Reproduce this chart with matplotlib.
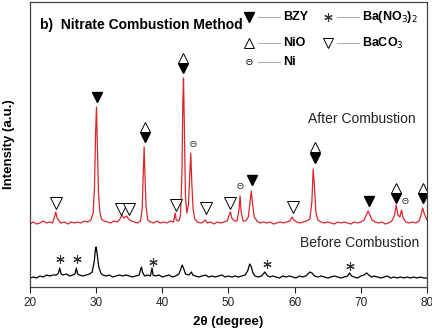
import matplotlib
matplotlib.use('Agg')
import matplotlib.pyplot as plt

plt.rcParams['font.family'] = ['Liberation Sans', 'DejaVu Sans']

# after combustion trace (2theta, intensity a.u.)
red_x = [20.0, 20.5, 21.0, 21.5, 22.0, 22.5, 23.0, 23.4, 23.7, 23.9, 24.1, 24.3, 24.7, 25.2, 25.7,
         26.2, 26.7, 27.2, 27.7, 28.2, 28.7, 29.2, 29.55, 29.75, 29.92, 30.05, 30.18, 30.35, 30.55, 30.8,
         31.2, 31.7, 32.2, 32.7, 33.2, 33.6, 33.9, 34.2, 34.6, 34.9, 35.3, 35.8, 36.3, 36.7, 36.95,
         37.12, 37.25, 37.38, 37.55, 37.8, 38.2, 38.7, 39.2, 39.7, 40.2, 40.7, 41.2, 41.7, 41.95, 42.1,
         42.5, 42.75, 42.97, 43.1, 43.2, 43.32, 43.5, 43.7, 43.95, 44.15, 44.3, 44.45, 44.65, 44.9, 45.3,
         45.8, 46.2, 46.5, 46.8, 47.3, 47.8, 48.3, 48.8, 49.3, 49.8, 50.1, 50.3, 50.5, 50.9, 51.3,
         51.6, 51.75, 51.9, 52.2, 52.6, 53.0, 53.3, 53.45, 53.6, 53.9, 54.3, 54.8, 55.3, 55.8, 56.3,
         56.8, 57.3, 57.8, 58.3, 58.8, 59.3, 59.6, 59.9, 60.3, 60.8, 61.3, 61.8, 62.3, 62.6, 62.8,
         63.0, 63.2, 63.5, 64.0, 64.5, 65.0, 65.5, 66.0, 66.5, 67.0, 67.5, 68.0, 68.5, 69.0, 69.5,
         70.0, 70.5, 70.9, 71.1, 71.3, 71.7, 72.2, 72.7, 73.2, 73.7, 74.2, 74.7, 75.1, 75.35, 75.6,
         75.9, 76.15, 76.4, 76.8, 77.3, 77.8, 78.3, 78.8, 79.1, 79.35, 79.6, 80.0]
red_y = [63, 65, 63, 64, 66, 64, 65, 64, 70, 75, 69, 67, 64, 65, 63,
         65, 64, 65, 64, 66, 65, 67, 74, 100, 155, 180, 145, 95, 75, 68,
         66, 65, 64, 66, 65, 68, 72, 69, 71, 68, 66, 65, 64, 66, 78,
         115, 140, 112, 80, 67, 65, 64, 66, 64, 65, 64, 66, 65, 74, 67,
         66, 72, 115, 185, 209, 165, 90, 74, 82, 112, 134, 105, 78, 68, 65,
         64, 65, 67, 64, 65, 63, 65, 64, 65, 66, 72, 75, 69, 66, 66,
         78, 91, 76, 66, 66, 70, 88, 96, 85, 70, 66, 64, 65, 64, 65,
         63, 64, 65, 64, 65, 66, 70, 67, 65, 64, 65, 66, 68, 85, 118,
         100, 75, 67, 65, 64, 65, 64, 63, 65, 64, 65, 64, 63, 65, 64,
         65, 67, 73, 76, 73, 67, 65, 64, 65, 63, 64, 66, 72, 82, 72,
         70, 77, 69, 65, 64, 65, 64, 66, 72, 79, 73, 67]

# before combustion trace
blk_x = [20.0, 20.5, 21.0, 21.5, 22.0, 22.5, 23.0, 23.5, 24.0, 24.3, 24.5, 24.7, 25.0, 25.5, 26.0,
         26.5, 26.8, 27.0, 27.2, 27.5, 28.0, 28.5, 29.0, 29.4, 29.7, 29.9, 30.0, 30.15, 30.4, 30.7,
         31.0, 31.5, 32.0, 32.5, 33.0, 33.5, 34.0, 34.5, 35.0, 35.5, 36.0, 36.5, 36.7, 36.85, 37.0,
         37.3, 37.8, 38.2, 38.45, 38.6, 39.0, 39.5, 40.0, 40.5, 41.0, 41.5, 42.0, 42.5, 42.8, 43.0,
         43.2, 43.5, 44.0, 44.4, 44.6, 45.0, 45.5, 46.0, 46.5, 47.0, 47.5, 48.0, 48.5, 49.0, 49.5,
         50.0, 50.5, 51.0, 51.5, 52.0, 52.5, 52.9, 53.2, 53.4, 53.7, 54.0, 54.5, 55.0, 55.5, 55.8,
         56.2, 56.7, 57.2, 57.7, 58.2, 58.7, 59.2, 59.7, 60.2, 60.7, 61.2, 61.7, 62.0, 62.3, 62.6,
         63.0, 63.5, 64.0, 64.5, 65.0, 65.5, 66.0, 66.5, 67.0, 67.5, 68.0, 68.3, 68.6, 69.0, 69.5,
         70.0, 70.5, 70.9, 71.2, 71.6, 72.0, 72.5, 73.0, 73.5, 74.0, 74.5, 75.0, 75.5, 76.0, 76.5,
         77.0, 77.5, 78.0, 78.5, 79.0, 79.5, 80.0]
blk_y = [9, 10, 9, 11, 10, 12, 11, 12, 12, 14, 19, 13, 12, 13, 11,
         12, 13, 19, 13, 12, 11, 12, 13, 15, 25, 38, 40, 33, 20, 14,
         12, 11, 12, 10, 11, 12, 11, 12, 11, 10, 11, 12, 17, 20, 15,
         11, 12, 11, 19, 12, 11, 12, 10, 11, 12, 10, 11, 13, 18, 22,
         19, 13, 12, 15, 12, 11, 10, 11, 12, 10, 11, 10, 11, 12, 10,
         11, 10, 11, 10, 11, 12, 16, 23, 21, 14, 11, 10, 11, 15, 12,
         10, 11, 10, 9, 11, 10, 11, 10, 9, 11, 10, 11, 13, 15, 14,
         11, 10, 11, 10, 9, 10, 11, 10, 9, 10, 11, 14, 11, 10, 9,
         11, 12, 14, 12, 10, 11, 10, 9, 10, 11, 9, 10, 9, 10, 9,
         10, 9, 10, 9, 10, 9, 9]

# phase markers above the peaks
bzy_x = [30.1, 37.4, 43.2, 53.5, 63.0, 71.2, 75.3, 79.4]
bzy_y = [190, 150, 219, 107, 129, 86, 89, 89]
nio_x = [37.4, 43.2, 63.0, 75.3, 79.4]
nio_y = [160, 229, 140, 99, 99]
ni_x = [44.7, 51.8, 76.7]
ni_y = [142, 100, 85]
baco3_x = [23.9, 33.8, 34.9, 42.0, 46.6, 50.3, 59.7]
baco3_y = [84, 78, 78, 82, 79, 84, 80]
bano3_x = [24.5, 27.1, 38.6, 55.8, 68.3]
bano3_y = [28, 28, 25, 23, 21]

xticks = [20, 30, 40, 50, 60, 70, 80]

fig = plt.figure(figsize=(4.32, 3.28), dpi=100)
ax = fig.add_axes([0.0694, 0.125, 0.919, 0.869])

ax.plot(blk_x, blk_y, color='black', lw=0.9)
ax.plot(red_x, red_y, color='#d8262b', lw=0.9)

ax.plot(bzy_x, bzy_y, 'v', color='black', ms=7, ls='none')
ax.plot(nio_x, nio_y, '^', mfc='white', mec='black', mew=0.7, ms=7, ls='none')
ax.plot(baco3_x, baco3_y, 'v', mfc='white', mec='black', mew=0.7, ms=8, ls='none')
ax.plot(bano3_x, bano3_y, marker=(6, 2, 0), color='#333333', mew=0.8, ms=6, ls='none')
for x, y in zip(ni_x, ni_y):
    ax.text(x, y, '\u0398', fontsize=6.5, ha='center', va='center', color='#222222')

ax.set_xlim(20, 80)
ax.set_ylim(0, 285)
ax.set_xticks(xticks)
ax.set_yticks([])
ax.tick_params(axis='x', direction='out', length=4, width=0.8, labelsize=8.5, colors='#222222')
for s in ax.spines.values():
    s.set_color('#444444')
    s.set_linewidth(0.9)

ax.text(0.5, -0.1, '2\u03b8 (degree)', transform=ax.transAxes, ha='center', va='top',
        fontsize=9.5, fontweight='bold')
ax.text(-0.053, 0.5, 'Intensity (a.u.)', transform=ax.transAxes, ha='center', va='center',
        rotation=90, fontsize=9.5, fontweight='bold')

ax.text(0.025, 0.919, 'b)  Nitrate Combustion Method', transform=ax.transAxes, ha='left',
        va='center', fontsize=10, fontweight='bold')
ax.text(62.0, 168, 'After Combustion', ha='left', va='center', fontsize=10, color='#222222')
ax.text(60.8, 44, 'Before Combustion', ha='left', va='center', fontsize=10, color='#222222')

# legend drawn by hand: marker, short line, label
def legend_item(fx, fy, label, **mk):
    ax.plot([fx + 0.022, fx + 0.078], [fy, fy], transform=ax.transAxes, color='#aaaaaa',
            lw=0.7, clip_on=False)
    if mk:
        ax.plot([fx], [fy], transform=ax.transAxes, ls='none', clip_on=False, **mk)
    else:
        ax.text(fx, fy, '\u0398', transform=ax.transAxes, fontsize=6.5, ha='center', va='center')
    ax.text(fx + 0.085, fy, label, transform=ax.transAxes, ha='left', va='center',
            fontsize=9, fontweight='bold')

legend_item(0.552, 0.947, 'BZY', marker='v', color='black', ms=7)
legend_item(0.552, 0.856, 'NiO', marker='^', mfc='white', mec='black', mew=0.7, ms=7)
legend_item(0.552, 0.789, 'Ni')
legend_item(0.751, 0.947, 'Ba(NO$_3$)$_2$', marker=(6, 2, 0), color='#333333', mew=0.8, ms=6)
legend_item(0.751, 0.856, 'BaCO$_3$', marker='v', mfc='white', mec='black', mew=0.7, ms=7)

fig.savefig('out.png', dpi=100)
